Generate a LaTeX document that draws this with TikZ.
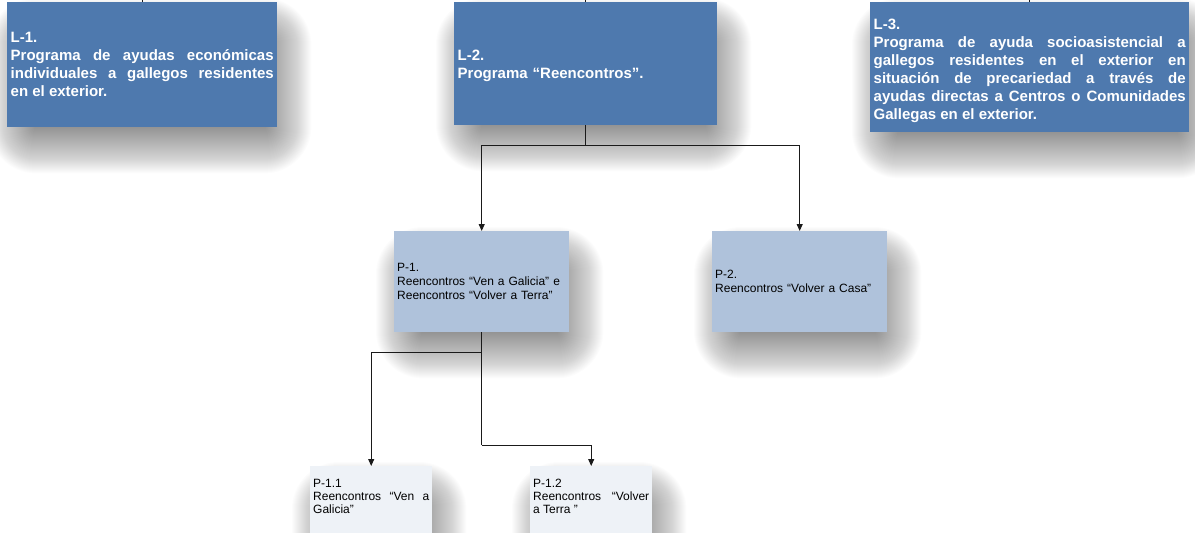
\documentclass[tikz,border=0pt]{standalone}
\usepackage{fontspec}
\setmainfont{Liberation Sans}
\usetikzlibrary{arrows.meta,calc}
\pgfdeclarelayer{bg}
\pgfsetlayers{bg,main}
\definecolor{lblue}{HTML}{4E79AE}
\definecolor{pblue}{HTML}{AFC2DB}
\definecolor{qblue}{HTML}{EEF2F7}
\definecolor{lineC}{HTML}{1A1A1A}
\tikzset{
  lbox/.style={fill=lblue, text=white, anchor=north west, inner xsep=3.5pt, inner ysep=0pt,
    font=\fontsize{15}{18}\selectfont\bfseries},
  pbox/.style={fill=pblue, text=black, anchor=north west, inner xsep=3pt, inner ysep=0pt,
    minimum width=175pt, minimum height=101pt, text width=169pt, align=left,
    font=\fontsize{12}{14}\selectfont},
  qbox/.style={fill=qblue, text=black, anchor=north west, inner xsep=3pt, inner ysep=0pt,
    minimum width=122pt, minimum height=80pt, text width=116pt, align=justify,
    font=\fontsize{12}{13}\selectfont},
  conn/.style={draw=lineC, line width=1pt},
  arr/.style={conn, -{Triangle[length=7pt,width=6pt]}},
  shadelayer/.style={fill=black, opacity=0.0135}
}
\newcommand\boxshadow[1]{%
  \foreach \e in {-20,-19,...,26}{%
    \pgfmathsetmacro\rr{\e+21}%
    \fill[shadelayer, rounded corners=\rr pt]
      ($(#1.north west)+({8-\e},{22-\e})$) rectangle ($(#1.south east)+({8+\e},{20+\e})$);%
  }%
}
\begin{document}
\begin{tikzpicture}[x=1pt,y=-1pt]
\useasboundingbox (0,0) rectangle (1195,533);

\node[lbox, text width=263pt, minimum height=125pt, align=justify] (l1) at (7,2)
  {L-1.\\Programa de ayudas económicas\linebreak individuales a gallegos residentes\linebreak en el exterior.};
\node[lbox, text width=256pt, minimum height=123pt, align=left] (l2) at (454,2)
  {\rule{0pt}{14pt}L-2.\\Programa “Reencontros”.};
\node[lbox, text width=312pt, minimum height=130pt, align=justify] (l3) at (870,2)
  {\rule{0pt}{17pt}L-3.\\Programa de ayuda socioasistencial a\linebreak gallegos residentes en el exterior en\linebreak situación de precariedad a través de\linebreak ayudas directas a Centros o Comunidades\linebreak Gallegas en el exterior.};

\node[pbox] (p1) at (394,231)
  {P-1.\\Reencontros “Ven a Galicia” e\\Reencontros “Volver a Terra”};
\node[pbox] (p2) at (712,231)
  {P-2.\\Reencontros “Volver a Casa”};

\node[qbox] (p11) at (310,466)
  {P-1.1\\Reencontros “Ven a\linebreak Galicia”\rule[-20pt]{0pt}{20pt}};
\node[qbox] (p12) at (530,466)
  {P-1.2\\Reencontros “Volver\linebreak a Terra ”\rule[-20pt]{0pt}{20pt}};

\begin{pgfonlayer}{bg}
  \boxshadow{l1}\boxshadow{l2}\boxshadow{l3}
  \boxshadow{p1}\boxshadow{p2}
  \boxshadow{p11}\boxshadow{p12}
\end{pgfonlayer}

% stubs to the top edge
\coordinate (t1) at (l1.north |- 0,0);
\coordinate (t2) at (l2.north |- 0,0);
\coordinate (t3) at (l3.north |- 0,0);
\draw[conn] (l1.north) -- (t1);
\draw[conn] (l2.north) -- (t2);
\draw[conn] (l3.north) -- (t3);

% connectors
\coordinate (b1) at ($(l2.south)+(0,20)$);
\draw[conn] (l2.south) -- (b1);
\draw[arr] (b1) -| (p1.north);
\draw[arr] (b1) -| (p2.north);

\coordinate (b2) at ($(p1.south)+(0,20)$);
\coordinate (b3) at ($(p1.south)+(0,113)$);
\draw[conn] (p1.south) -- (b3);
\draw[arr] (b2) -| (p11.north);
\draw[arr] (b3) -| (p12.north);
\end{tikzpicture}
\end{document}
